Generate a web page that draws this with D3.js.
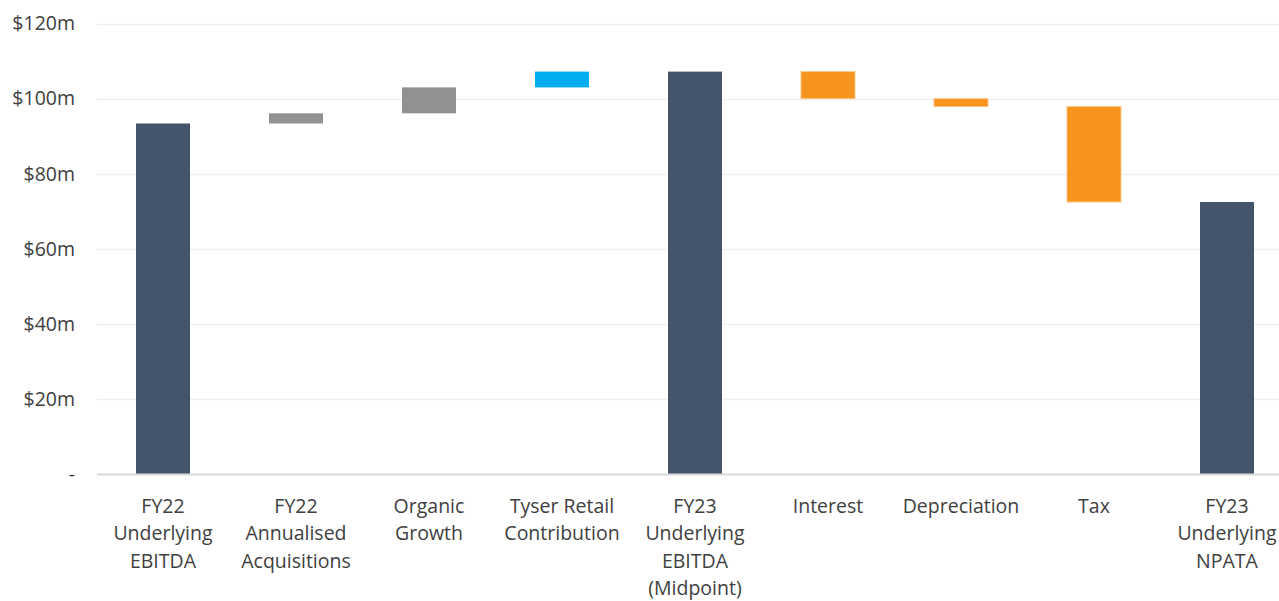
<!DOCTYPE html>
<html>
<head>
<meta charset="utf-8">
<script src="https://cdn.jsdelivr.net/npm/d3@7/dist/d3.min.js"></script>
<style>
  html, body { margin: 0; padding: 0; background: #ffffff; }
  svg { display: block; }
  text { font-family: "Open Sans", "Noto Sans", sans-serif; fill: #404040; }
</style>
</head>
<body>
<svg id="chart" width="1279" height="601"></svg>
<script>
// Bridge from FY22 underlying EBITDA to FY23 underlying NPATA ($m)
const categories = [
  ["FY22", "Underlying", "EBITDA"],
  ["FY22", "Annualised", "Acquisitions"],
  ["Organic", "Growth"],
  ["Tyser Retail", "Contribution"],
  ["FY23", "Underlying", "EBITDA", "(Midpoint)"],
  ["Interest"],
  ["Depreciation"],
  ["Tax"],
  ["FY23", "Underlying", "NPATA"]
];
// "total" bars start from zero; other bars are changes from the running total
const barKinds = ["total", "acq", "acq", "tyser", "total", "cost", "cost", "cost", "total"];
const values = [93.4, 2.7, 6.9, 4.2, 107.2, -7.2, -2.1, -25.4, 72.5];
const yTicks = [0, 20, 40, 60, 80, 100, 120];

const fills = { total: "#44546A", acq: "#919191", tyser: "#00AEEF", cost: "#F7941D" };

const svg = d3.select("#chart");
const width = 1279;
const fontSize = 19.5;

const x = d3.scaleBand()
  .domain(d3.range(categories.length))
  .range([96.5, 1293.5])
  .paddingInner(0.594)
  .paddingOuter(0.297);

const y = d3.scaleLinear().domain([0, 120]).range([474.5, 23.5]);

// running totals -> [start, end] for every bar
let running = 0;
const bars = values.map((v, i) => {
  let y0, y1;
  if (barKinds[i] === "total") { y0 = 0; y1 = v; running = v; }
  else { y0 = running; y1 = running + v; running = y1; }
  return { i, kind: barKinds[i], lo: Math.min(y0, y1), hi: Math.max(y0, y1) };
});

// gridlines
svg.append("g")
  .selectAll("line")
  .data(yTicks.filter(t => t > 0))
  .join("line")
  .attr("x1", 97).attr("x2", width)
  .attr("y1", d => Math.round(y(d)) + 0.5).attr("y2", d => Math.round(y(d)) + 0.5)
  .attr("stroke", "#f0f0f0").attr("stroke-width", 1.5);

// y axis labels
const yAxis = d3.axisLeft(y)
  .tickValues(yTicks)
  .tickSize(0)
  .tickPadding(0)
  .tickFormat(d => d === 0 ? "-" : "$" + d + "m");
const gy = svg.append("g").attr("transform", "translate(75,0)").call(yAxis);
gy.select(".domain").remove();
gy.selectAll("text")
  .attr("font-size", fontSize)
  .attr("fill", "#404040")
  .style("font-family", "'Open Sans', 'Noto Sans', sans-serif");

// bars
svg.append("g")
  .selectAll("rect")
  .data(bars)
  .join("rect")
  .attr("x", d => x(d.i))
  .attr("width", x.bandwidth())
  .attr("y", d => y(d.hi))
  .attr("height", d => y(d.lo) - y(d.hi))
  .attr("fill", d => fills[d.kind])
  .attr("stroke", d => d.kind === "cost" ? "#FBC487" : "none")
  .attr("stroke-width", 1);

// baseline axis
const xAxis = d3.axisBottom(x).tickSize(0).tickFormat("");
const gx = svg.append("g").attr("transform", `translate(0,${y(0)})`).call(xAxis);
gx.select(".domain").attr("stroke", "#d9d9d9").attr("stroke-width", 2)
  .attr("d", `M97,0H${width}`);

// category labels (multi-line)
const labels = svg.append("g")
  .selectAll("text")
  .data(categories)
  .join("text")
  .attr("text-anchor", "middle")
  .attr("font-size", fontSize)
  .attr("x", (d, i) => x(i) + x.bandwidth() / 2)
  .attr("y", 512.5);
labels.selectAll("tspan")
  .data(d => d)
  .join("tspan")
  .attr("x", function () { return d3.select(this.parentNode).attr("x"); })
  .attr("dy", (d, j) => j === 0 ? 0 : 27.5)
  .text(d => d);
</script>
</body>
</html>
